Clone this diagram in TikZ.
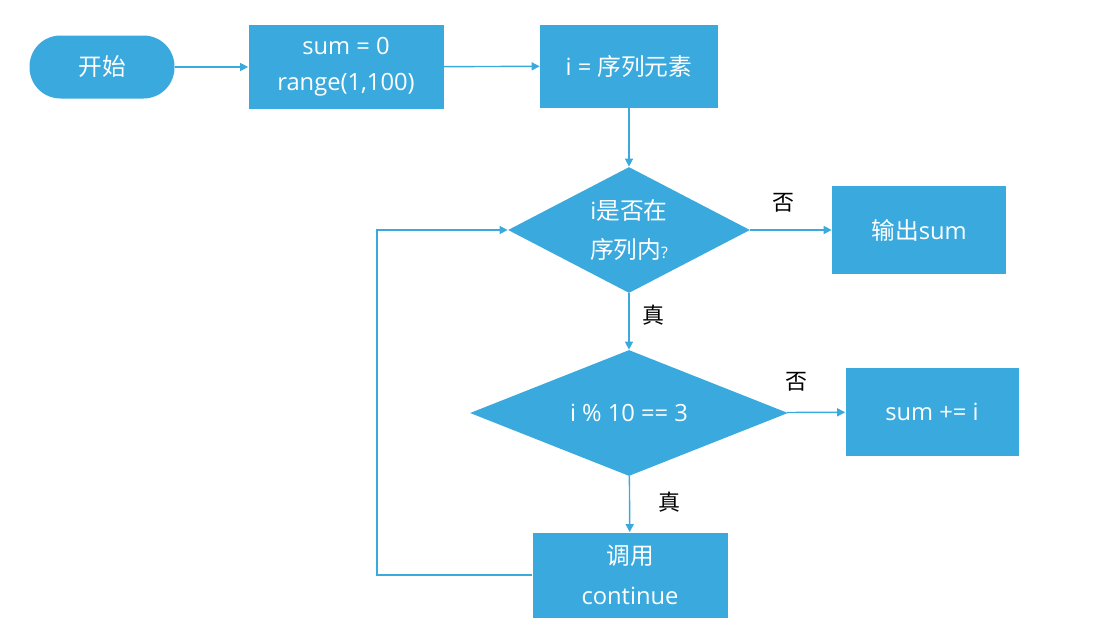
\documentclass[tikz,border=0pt]{standalone}
\usepackage{fontspec}
\setmainfont{Open Sans}
\newfontfamily\cjk{Noto Sans CJK SC}
\usepackage{tikz}
\usetikzlibrary{arrows.meta, shapes.geometric}
\usepackage{xcolor}
\definecolor{flowblue}{HTML}{3AA9DD}

\tikzset{
  box/.style={rectangle, fill=flowblue, text=white, align=center, inner sep=0pt,
    font=\fontsize{13.5}{22.5}\selectfont},
  startbox/.style={box, rounded corners=0.62cm},
  decide/.style={diamond, fill=flowblue, text=white, align=center, inner sep=0pt,
    font=\fontsize{13.5}{22.5}\selectfont},
  flow/.style={draw=flowblue, line width=0.8pt, -{Triangle[length=4.6pt,width=4.6pt]}},
  branch/.style={font=\cjk\fontsize{12.5}{15}\selectfont, text=black},
}

\begin{document}
\begin{tikzpicture}[>={Triangle[length=4.6pt,width=4.6pt]}]
\useasboundingbox (0,0) rectangle (22.02,-12.7);
% boxes
\node[startbox, minimum width=2.9cm, minimum height=1.26cm] (start) at (2.04,-1.34) {\cjk 开始};
\node[box, minimum width=3.9cm, minimum height=1.66cm] (init) at (6.92,-1.34) {\raisebox{-2pt}{sum = 0}\\range(1,100)};
\node[box, minimum width=3.56cm, minimum height=1.66cm] (elem) at (12.58,-1.32) {i = {\cjk 序列元素}};
\node[decide, shape aspect=1.92, minimum width=4.84cm, minimum height=2.52cm] (inseq) at (12.58,-4.6) {i{\cjk 是否在}\\{\cjk 序列内}{\small ?}};
\node[box, minimum width=3.48cm, minimum height=1.76cm] (output) at (18.38,-4.6) {{\cjk 输出}sum};
\node[decide, shape aspect=2.52, minimum width=6.36cm, minimum height=2.52cm] (mod) at (12.58,-8.26) {i \% 10 == 3};
\node[box, minimum width=3.46cm, minimum height=1.76cm] (add) at (18.64,-8.24) {sum += i};
\node[box, minimum width=3.9cm, minimum height=1.7cm] (cont) at (12.6,-11.5) {{\cjk 调用}\\continue};
% branch labels
\node[branch] (no1) at (15.66,-4.06) {否};
\node[branch] (yes1) at (13.06,-6.3) {真};
\node[branch] (no2) at (15.92,-7.64) {否};
\node[branch] (yes2) at (13.38,-10.04) {真};
% connectors
\coordinate (loopbot) at (7.54,-11.5);
\coordinate (looptop) at (7.54,-4.6);
\draw[flow] (start) -- (init);
\draw[flow] (init) -- (elem);
\draw[flow] (elem) -- (inseq);
\draw[flow] (inseq) -- (output);
\draw[flow] (inseq) -- (mod);
\draw[flow] (mod) -- (add);
\draw[flow] (mod) -- (cont);
\draw[flow] (cont) -- (loopbot) -- (looptop) -- (inseq);
\end{tikzpicture}
\end{document}
